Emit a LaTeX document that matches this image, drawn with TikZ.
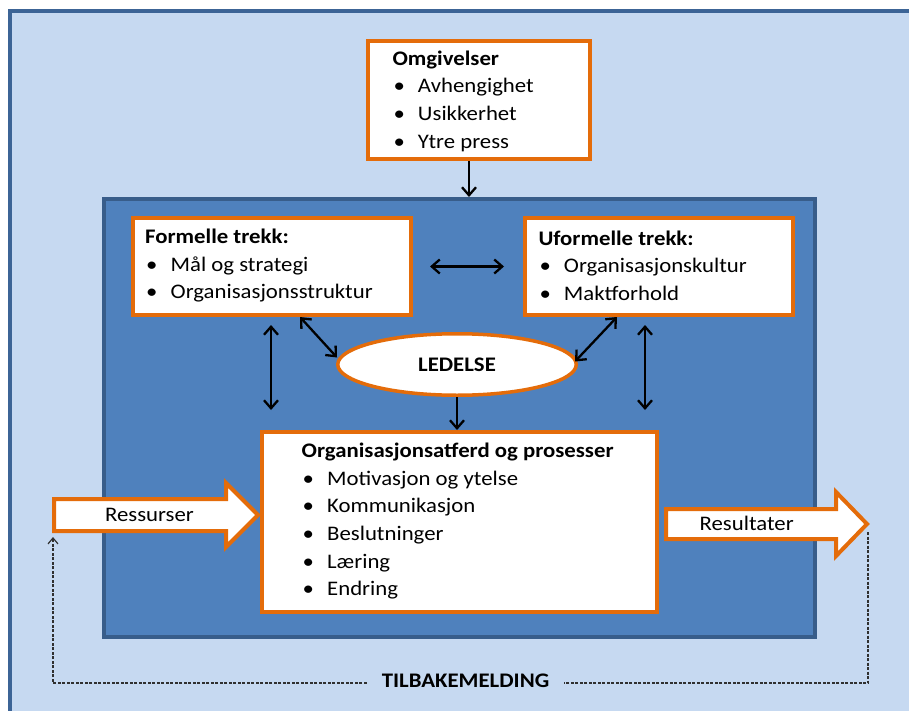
\documentclass[tikz,border=0pt]{standalone}
\usepackage{fontspec}
\setmainfont{Carlito}[FakeStretch=1.1]
\usetikzlibrary{arrows.meta,calc,shapes.geometric}
\definecolor{lightbg}{HTML}{C6D9F1}
\definecolor{outerb}{HTML}{3C6496}
\definecolor{innerfill}{HTML}{4F81BD}
\definecolor{innerb}{HTML}{385D8A}
\definecolor{orng}{HTML}{E46C0A}
\definecolor{dashc}{HTML}{303030}
\newcommand{\mainsz}{\fontsize{20.7}{27.7}\selectfont}
\newcommand{\bul}[1]{\makebox[25.5pt][l]{\hspace{1pt}•}#1}
\tikzset{
  obox/.style={draw=orng, line width=4pt, fill=white, rectangle, inner sep=0pt, anchor=north west},
  btext/.style={anchor=north west, inner sep=0pt, align=left, font=\mainsz},
  ltext/.style={anchor=base, inner sep=0pt, font=\mainsz},
  arr/.style={draw=black, line width=2.3pt, >={Straight Barb[length=8pt,width=14pt]}},
  fb/.style={draw=dashc, line width=1.2pt, dash pattern=on 3pt off 1.5pt, >={Straight Barb[length=6pt,width=10pt]}},
  barrow/.style={draw=orng, line width=4pt, fill=white, miter limit=10}
}
\begin{document}
\begin{tikzpicture}[x=1pt,y=-1pt]
\useasboundingbox (0,0) rectangle (909,711);
\clip (0,0) rectangle (909,711);
\fill[white] (0,0) rectangle (909,711);
\fill[lightbg] (10,11) rectangle (920,720);
\draw[line width=4pt, draw=outerb, line cap=rect] (10,720) -- (10,11) -- (920,11);

% inner organisation rectangle
\node[draw=innerb, line width=4pt, fill=innerfill, rectangle, inner sep=0pt, anchor=north west,
      minimum width=711pt, minimum height=438pt] (inner) at (102,197) {};

% Omgivelser
\node[obox, minimum width=222pt, minimum height=118pt] (omg) at (366,39) {};
\node[btext] (omgt) at (392.3,45.6) {\strut\textbf{Omgivelser}\\\bul{Avhengighet}\\\bul{Usikkerhet}\\\bul{Ytre press}};

% Formelle / Uformelle
\node[obox, minimum width=278pt, minimum height=97pt] (form) at (131,216) {};
\node[btext] (formt) at (145,223.9) {\strut\textbf{Formelle trekk:}\\\bul{Mål og strategi}\\\bul{Organisasjonsstruktur}};
\node[obox, minimum width=268pt, minimum height=97pt] (uform) at (523,216) {};
\node[btext] (uformt) at (538.3,225.6) {\strut\textbf{Uformelle trekk:}\\\bul{Organisasjonskultur}\\\bul{Maktforhold}};

% Ledelse
\node[ellipse, draw=orng, line width=3.5pt, fill=white, inner sep=0pt, minimum width=238.5pt, minimum height=61.5pt,
      font=\mainsz\bfseries] (led) at (457,364.5) {LEDELSE};

% block arrows
\draw[barrow] (54,499) -- (226,499) -- (226,483) -- (258,515) -- (226,547) -- (226,531) -- (54,531) -- cycle;
\draw[barrow] (666,509) -- (836,509) -- (836,492) -- (867,524) -- (836,556) -- (836,539) -- (666,539) -- cycle;
\node[ltext] (res) at (149.5,521.7) {Ressurser};
\node[ltext] (resu) at (746.7,530) {Resultater};

% Organisasjonsatferd
\node[obox, minimum width=395pt, minimum height=180pt] (org) at (260,430) {};
\node[btext] (orgt) at (301.5,437.9) {\strut\textbf{Organisasjonsatferd og prosesser}\\\bul{Motivasjon og ytelse}\\\bul{Kommunikasjon}\\\bul{Beslutninger}\\\bul{Læring}\\\bul{Endring}};

% connectors
\draw[arr,->] ([xshift=-10pt]omg.south) -- ([xshift=-10pt]omg.south |- inner.north);
\draw[arr,<->] ($(form.east)+(17,0)$) -- ($(uform.west)+(-19,0)$);
\draw[arr,<->] ($(form.south)+(28,0)$) -- ($(led.west)+(1,-7)$);
\draw[arr,<->] ($(uform.south)+(-42,0)$) -- ($(led.east)+(-3,-3)$);
\draw[arr,<->] ($(form.south)+(-1,8)$) -- ($(form.south |- org.north)+(-1,-20)$);
\draw[arr,<->] ($(uform.south)+(-14,8)$) -- ($(uform.south |- org.north)+(-14,-20)$);
\draw[arr,->] (led.south) -- (led.south |- org.north);

% feedback
\node[ltext, font=\mainsz\bfseries, inner xsep=15pt] (tb) at (465.5,687.7) {TILBAKEMELDING};
\coordinate (fbTL) at (53,537);
\coordinate (fbBL) at (53,683);
\coordinate (fbBR) at (868,683);
\coordinate (fbTR) at (868,532);
\draw[fb,->] (tb.west |- fbBL) -- (fbBL) -- (fbTL);
\draw[fb] (fbTR) -- (fbBR) -- (tb.east |- fbBR);
\end{tikzpicture}
\end{document}
